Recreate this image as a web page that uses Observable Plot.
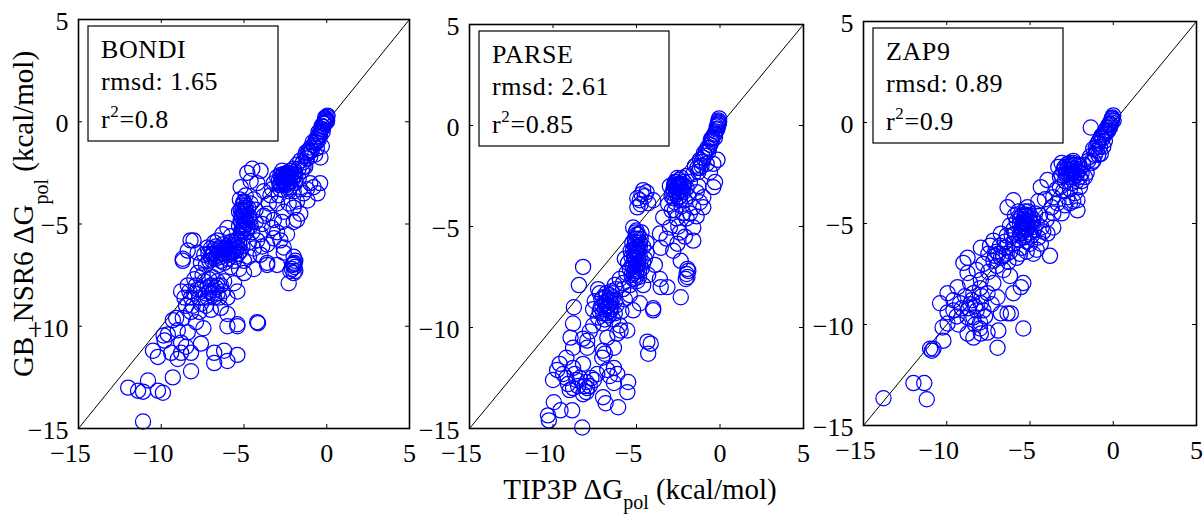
<!DOCTYPE html>
<html><head><meta charset="utf-8">
<script src="https://cdn.jsdelivr.net/npm/d3@7"></script>
<script src="https://cdn.jsdelivr.net/npm/@observablehq/plot@0.6"></script>
<style>
body{margin:0;background:#fff;}
#wrap{position:relative;width:1203px;height:516px;overflow:hidden;background:#fff;}
#wrap svg{position:absolute;top:0;}
</style></head><body><div id="wrap"></div>
<script>
// ---- data: [TIP3P ΔGpol, GB_NSR6 ΔGpol] in kcal/mol ----
const bondi = [
[0.05,0.3],[0.0,0.25],[-0.05,0.15],[0.02,0.05],[-0.1,0.0],[-0.15,-0.1],[-0.2,-0.25],[-0.3,-0.35],[-0.38,-0.45],[-0.45,-0.6],[-0.56,-0.77],[-0.5,-0.9],[-0.7,-1.0],[-0.8,-1.15],[-0.98,-1.26],[-1.1,-1.4],[-1.16,-1.55],[-1.3,-1.65],[-0.38,-1.75],[-1.6,-1.9],[-1.45,-2.0],[-0.6,-1.3],
[-0.1,0.2],[0.0,0.0],[-0.2,-0.1],[-0.25,-0.5],[-0.4,-0.7],[-0.6,-1.0],[-0.9,-1.4],[-1.2,-1.8],[-1.0,-1.7],[-0.7,-1.6],[-0.3,-1.2],[-1.4,-2.2],
[-0.05,0.1],[-0.15,-0.05],[-0.3,-0.2],[-0.5,-0.5],[-0.65,-0.85],[-0.85,-1.0],[-1.05,-1.5],[-1.25,-1.5],
[-1.8,-2.1],[-2.0,-2.3],[-2.2,-2.4],[-2.4,-2.5],[-2.6,-2.55],[-2.8,-2.6],[-2.5,-2.7],[-2.3,-2.8],[-2.7,-2.85],[-2.9,-2.9],[-2.4,-3.0],[-2.1,-2.9],[-2.6,-3.1],[-2.2,-3.2],[-1.9,-2.6],[-1.7,-2.8],[-2.0,-3.4],[-2.8,-3.3],[-3.0,-2.7],[-3.2,-3.0],[-1.5,-2.4],[-1.3,-2.2],[-0.4,-3.0],[-0.56,-3.5],[-0.8,-3.2],[-1.0,-3.0],[-1.16,-3.85],[-1.4,-3.5],[-2.0,-4.2],[-1.6,-4.5],[-2.0,-4.9],[-1.8,-4.8],[-2.4,-5.5],[-2.6,-6.15],[-3.6,-4.5],[-3.2,-4.8],[-3.0,-4.0],[-3.4,-3.6],[-2.6,-4.4],
[-2.45,-2.6],[-2.55,-2.75],[-2.35,-2.65],[-2.65,-2.65],[-2.5,-2.9],[-2.3,-2.5],[-2.7,-2.4],[-2.2,-2.7],[-2.4,-3.2],[-2.8,-3.0],[-2.0,-2.7],[-2.6,-2.95],[-1.9,-3.0],[-2.3,-3.4],[-2.9,-3.6],[-3.3,-3.3],[-1.6,-3.3],[-1.2,-3.3],[-1.8,-3.9],[-2.3,-4.0],[-2.7,-4.9],[-3.0,-5.4],[-2.8,-5.8],
[-2.5,-2.6],[-2.35,-2.75],[-2.6,-2.85],[-2.75,-2.7],[-2.15,-2.55],[-2.45,-3.1],[-2.85,-3.1],[-1.95,-2.45],[-2.25,-2.95],[-1.7,-2.3],
[-4.0,-2.4],[-4.8,-2.5],[-4.5,-2.3],[-4.6,-2.9],[-5.2,-3.2],[-4.2,-3.0],[-4.9,-3.6],[-3.8,-3.4],[-4.4,-3.8],
[-5.0,-3.9],[-5.1,-4.1],[-4.9,-4.3],[-5.05,-4.5],[-5.15,-4.6],[-4.95,-4.8],[-5.1,-5.0],[-5.0,-5.2],[-4.85,-5.4],[-5.2,-5.5],[-4.7,-4.6],[-5.3,-4.4],[-4.6,-5.1],[-4.3,-4.9],[-4.0,-5.5],[-3.6,-6.0],[-3.6,-6.9],[-4.4,-6.2],[-4.0,-6.5],
[-5.0,-4.0],[-4.95,-4.2],[-5.0,-4.4],[-5.1,-4.7],[-4.9,-4.9],[-5.0,-5.1],[-5.15,-5.3],[-4.8,-5.0],[-5.2,-4.3],[-4.75,-4.2],[-5.25,-3.8],[-4.6,-4.0],[-4.3,-4.3],[-4.5,-5.4],[-3.9,-5.0],[-4.2,-5.8],[-4.7,-5.9],
[-5.05,-3.95],[-4.9,-4.1],[-5.1,-4.35],[-4.85,-4.55],[-5.2,-4.85],[-4.95,-5.05],[-5.05,-5.35],[-4.8,-5.2],[-4.65,-4.8],[-5.3,-5.1],
[-3.3,-5.2],[-3.5,-4.0],[-3.8,-4.6],[-3.2,-5.7],[-3.9,-6.1],
[-6.0,-5.2],[-6.6,-5.8],[-5.4,-5.8],[-5.6,-6.0],[-5.4,-6.15],[-5.2,-6.3],[-5.8,-6.2],[-5.9,-6.5],[-5.5,-6.6],[-6.1,-6.3],[-6.3,-6.0],[-6.5,-6.4],[-6.84,-6.44],[-7.0,-6.2],[-7.2,-6.15],[-6.7,-6.7],[-7.1,-6.8],[-6.5,-7.0],[-7.4,-6.5],[-7.6,-6.9],[-6.2,-6.9],[-5.8,-7.1],[-5.0,-6.8],[-4.7,-6.6],[-5.3,-7.2],[-4.4,-7.2],[-5.0,-7.4],[-3.0,-7.0],[-3.6,-7.0],[-8.05,-5.8],[-8.23,-5.8],[-8.4,-6.3],[-8.7,-6.7],[-8.7,-6.8],
[-5.5,-6.3],[-5.7,-6.4],[-5.6,-6.1],[-5.9,-6.0],[-6.0,-6.4],[-6.2,-6.2],[-6.4,-6.6],[-6.6,-6.3],[-6.7,-6.1],[-6.9,-6.5],[-7.0,-6.6],[-5.3,-5.9],[-5.1,-6.1],[-6.8,-5.9],[-7.3,-7.0],[-6.0,-6.7],[-5.6,-6.8],[-7.8,-6.4],[-6.3,-5.5],[-5.8,-5.6],
[-5.45,-6.05],[-5.65,-6.25],[-5.85,-6.35],[-6.05,-6.1],[-6.25,-6.45],[-6.45,-6.2],[-6.65,-6.55],[-6.85,-6.3],[-6.95,-6.75],[-7.15,-6.45],[-5.35,-6.45],[-5.75,-5.85],[-6.4,-6.8],
[-2.0,-6.6],[-1.9,-6.8],[-2.0,-6.95],[-1.95,-7.1],[-2.1,-7.2],[-2.0,-7.4],[-2.2,-7.3],[-2.3,-7.9],[-2.6,-6.4],[-1.95,-6.9],[-2.05,-7.0],[-1.9,-7.3],
[-6.84,-8.25],[-7.0,-8.0],[-6.6,-8.4],[-7.2,-8.6],[-6.4,-8.0],[-6.9,-7.6],[-7.4,-7.8],[-7.8,-7.4],[-6.2,-7.8],[-6.0,-8.6],[-5.4,-8.3],[-5.6,-7.9],[-7.6,-8.9],[-7.0,-9.2],[-6.4,-9.1],[-6.0,-9.4],[-8.0,-7.7],[-8.4,-8.0],[-8.8,-8.3],[-8.2,-8.6],[-7.8,-8.2],[-8.5,-9.0],[-9.1,-9.6],[-8.7,-9.6],[-8.2,-9.3],[-7.9,-9.8],[-7.45,-10.1],[-8.4,-10.3],[-7.6,-10.85],[-6.0,-10.0],[-5.4,-10.0],[-5.4,-9.9],[-4.2,-9.8],[-4.15,-9.85],[-9.3,-9.7],[-9.6,-10.4],[-9.86,-10.45],[-9.8,-10.7],[-9.0,-10.2],[-8.8,-10.8],
[-6.7,-8.1],[-6.9,-8.4],[-7.1,-8.3],[-6.5,-8.6],[-7.3,-8.4],[-6.6,-7.8],[-7.1,-7.7],[-7.6,-8.2],[-8.0,-8.4],[-6.3,-8.3],[-7.7,-9.3],[-8.1,-9.0],[-7.3,-9.0],
[-7.5,-7.5],[-7.9,-8.0],[-8.3,-8.3],[-7.7,-8.6],[-8.6,-8.6],[-7.2,-8.1],[-6.6,-8.0],[-6.8,-8.6],
[-10.5,-11.2],[-10.2,-11.5],[-9.4,-11.3],[-8.8,-11.3],[-8.2,-11.3],[-8.5,-11.0],[-9.0,-11.6],[-6.8,-11.3],[-6.8,-11.8],[-6.2,-11.2],[-6.0,-11.7],[-5.4,-11.4],[-8.2,-12.2],[-9.3,-12.5],[-10.8,-12.65],[-12.0,-13.0],[-11.4,-13.15],[-11.1,-13.2],[-10.2,-13.15],[-9.9,-13.25],[-11.1,-14.66]
];
const parse = [
[-0.05,0.35],[-0.1,0.25],[-0.08,0.1],[-0.12,0.0],[-0.15,-0.15],[-0.25,-0.3],[-0.35,-0.45],[-0.45,-0.6],[-0.5,-0.8],[-0.6,-0.95],[-0.75,-1.1],[-0.85,-1.3],[-1.0,-1.6],[-0.4,-1.9],[-0.15,-1.7],[-1.2,-1.7],[-1.35,-2.1],[-1.6,-2.4],[-1.1,-2.0],[-0.3,-2.8],[-0.4,-3.05],
[-0.05,0.2],[-0.1,0.05],[-0.2,-0.2],[-0.3,-0.6],[-0.55,-0.7],[-0.7,-1.3],[-0.9,-1.5],[-1.1,-1.8],[-0.8,-1.9],[-1.3,-2.3],[-1.5,-2.0],[-0.6,-2.3],
[-0.1,0.15],[-0.2,-0.05],[-0.3,-0.4],[-0.5,-0.65],[-0.65,-1.1],[-0.95,-1.35],[-1.2,-2.1],
[-2.5,-2.9],[-2.4,-2.9],[-2.7,-2.8],[-2.3,-2.6],[-2.6,-3.1],[-2.8,-3.2],[-2.2,-3.3],[-3.0,-3.0],[-2.9,-3.5],[-2.5,-3.6],[-3.1,-3.9],[-2.7,-3.8],[-2.0,-2.5],[-1.8,-2.8],[-2.1,-3.7],[-1.0,-3.55],[-1.0,-4.05],[-1.6,-4.05],[-1.4,-3.3],[-1.8,-4.35],[-1.6,-5.05],[-2.2,-4.35],[-2.4,-5.3],[-1.6,-5.7],[-2.6,-4.6],[-2.9,-4.2],[-3.4,-4.55],[-3.0,-5.05],[-3.6,-5.35],[-3.55,-6.05],[-2.55,-5.85],[-2.8,-6.2],[-2.35,-6.7],
[-2.5,-3.0],[-2.6,-2.8],[-2.4,-3.2],[-2.7,-3.0],[-2.3,-2.9],[-2.45,-2.7],[-2.6,-3.4],[-2.2,-3.0],[-2.8,-3.6],[-2.4,-3.5],[-2.0,-3.1],[-1.9,-3.5],[-2.3,-4.0],[-2.7,-4.2],[-2.0,-4.6],[-1.3,-3.0],[-1.2,-3.8],[-1.4,-4.5],[-2.5,-5.0],[-3.2,-5.6],[-2.1,-5.5],
[-2.55,-2.95],[-2.35,-3.05],[-2.65,-3.25],[-2.5,-3.3],[-2.75,-2.95],[-2.3,-3.2],[-2.55,-2.6],[-2.85,-3.35],[-2.15,-2.8],[-2.4,-3.7],
[-4.6,-3.2],[-4.8,-3.7],[-4.95,-4.05],[-4.0,-3.7],[-4.3,-3.85],[-4.5,-3.5],[-4.95,-3.6],[-4.7,-3.4],[-4.4,-3.3],[-4.75,-3.9],
[-5.2,-5.05],[-5.0,-5.2],[-4.9,-5.4],[-5.1,-5.6],[-4.8,-5.8],[-5.0,-6.0],[-5.2,-6.15],[-5.35,-6.2],[-4.95,-6.35],[-5.1,-6.6],[-4.9,-6.8],[-5.2,-7.0],[-5.0,-7.2],[-5.3,-7.4],[-4.95,-7.7],[-4.7,-5.3],[-4.6,-6.0],[-4.5,-6.6],[-4.7,-7.1],[-5.5,-6.8],[-5.6,-7.3],[-4.4,-5.8],[-4.3,-7.4],[-4.6,-7.9],[-5.4,-7.9],[-3.9,-6.9],[-3.6,-7.6],
[-5.05,-5.3],[-4.95,-5.6],[-5.1,-5.9],[-5.0,-6.1],[-4.9,-6.2],[-5.15,-6.4],[-5.05,-6.7],[-4.95,-6.9],[-5.1,-7.1],[-5.0,-7.4],[-5.2,-7.6],[-4.85,-7.5],[-5.3,-6.5],[-4.8,-6.5],[-5.25,-5.8],[-4.75,-5.6],[-5.4,-7.1],[-4.6,-6.8],[-4.4,-6.3],[-5.7,-6.6],[-5.8,-7.8],
[-5.0,-5.4],[-5.1,-5.75],[-4.9,-6.0],[-5.05,-6.25],[-5.15,-6.55],[-4.9,-6.6],[-5.0,-6.95],[-5.15,-7.3],[-4.85,-7.2],[-5.05,-7.55],[-4.8,-6.0],[-5.25,-6.9],
[-1.95,-7.1],[-1.9,-7.2],[-2.0,-7.35],[-1.95,-7.5],[-2.05,-7.6],[-2.35,-8.5],[-3.55,-8.0],[-3.15,-8.0],
[-6.0,-7.6],[-6.3,-7.9],[-5.8,-8.1],[-6.5,-8.2],[-6.8,-8.3],[-7.0,-8.5],[-6.6,-8.6],[-6.9,-8.8],[-7.15,-9.0],[-6.5,-9.1],[-6.7,-9.4],[-6.4,-9.6],[-7.0,-9.8],[-6.2,-8.9],[-5.9,-9.2],[-5.7,-8.6],[-7.3,-8.1],[-7.5,-8.7],[-7.3,-9.5],[-6.0,-9.9],[-5.2,-9.15],[-4.8,-8.8],[-5.4,-8.4],[-4.0,-9.15],[-4.0,-9.05],[-4.35,-10.7],[-4.3,-11.3],[-4.15,-10.8],
[-6.6,-8.4],[-6.8,-8.7],[-6.9,-9.1],[-6.7,-8.9],[-7.0,-9.3],[-6.5,-8.8],[-7.1,-8.6],[-6.4,-8.5],[-6.6,-9.2],[-6.9,-9.6],[-6.3,-9.3],[-7.2,-8.3],[-6.2,-8.1],[-7.6,-9.1],
[-6.6,-8.7],[-6.75,-9.0],[-6.55,-9.0],[-6.85,-8.5],[-6.45,-8.3],[-7.05,-8.9],[-6.3,-8.7],[-6.8,-9.3],[-7.2,-9.2],
[-8.2,-7.0],[-8.45,-7.9],[-8.75,-9.0],[-8.8,-9.8],[-8.95,-10.5],[-8.8,-11.0],[-8.2,-10.55],[-7.95,-11.0],[-7.95,-10.65],[-7.6,-9.9],[-7.8,-10.2],[-6.75,-10.5],[-5.95,-10.15],[-5.55,-10.15],[-6.15,-10.3],[-6.35,-11.0],[-7.0,-11.15],[-7.05,-11.5],[-6.9,-11.3],
[-9.75,-12.1],[-10.0,-12.6],[-9.4,-12.3],[-9.1,-12.8],[-8.8,-13.0],[-8.5,-12.9],[-8.2,-13.3],[-7.95,-13.0],[-8.8,-12.0],[-8.2,-11.8],[-7.55,-12.6],[-7.35,-12.3],[-8.0,-12.7],[-6.75,-12.1],[-6.35,-12.0],[-6.15,-12.3],[-6.35,-12.75],[-7.0,-13.45],[-6.85,-13.75],[-6.1,-13.95],[-5.5,-12.7],[-5.55,-13.2],[-9.95,-13.7],[-9.55,-14.1],[-8.85,-14.1],[-10.3,-14.35],[-10.25,-14.6],[-8.25,-14.95],[-9.2,-11.5],[-9.6,-11.8],
[-8.1,-12.9],[-8.0,-13.2],[-7.8,-12.9],[-9.2,-12.5],[-8.6,-12.6],[-6.6,-12.4],[-8.4,-12.5],[-8.7,-12.3],[-9.0,-13.1],[-7.7,-12.5]
];
const zap9 = [
[0.0,0.35],[-0.05,0.25],[0.02,0.1],[-0.1,0.0],[-0.15,-0.1],[-0.2,-0.25],[-0.35,-0.25],[-0.4,-0.45],[-0.55,-0.6],[-0.75,-0.75],[-0.85,-0.9],[-0.95,-1.05],[-1.35,-0.25],[-0.75,-1.55],[-1.0,-1.4],[-1.2,-1.9],[-1.4,-1.7],[-0.6,-1.2],
[-0.05,0.2],[-0.12,0.1],[-0.25,-0.1],[-0.3,-0.4],[-0.45,-0.55],[-0.65,-0.8],[-0.8,-1.2],[-0.9,-1.6],[-1.1,-1.6],[-1.3,-2.0],[-0.5,-0.9],[-1.5,-1.9],[-1.2,-1.3],
[-0.1,0.2],[-0.2,-0.05],[-0.3,-0.15],[-0.5,-0.4],[-0.7,-0.65],[-0.9,-1.0],[-1.05,-1.25],
[-2.75,-2.05],[-2.6,-2.0],[-2.9,-2.2],[-2.5,-2.3],[-3.0,-2.4],[-2.3,-2.1],[-2.8,-2.5],[-2.2,-2.6],[-2.0,-2.3],[-1.8,-2.1],[-1.6,-2.5],[-1.7,-2.7],[-3.2,-2.7],[-3.2,-3.2],[-2.75,-3.7],[-2.15,-3.85],[-2.15,-4.35],[-2.5,-3.0],[-2.0,-3.2],[-3.6,-3.7],[-3.35,-4.0],[-3.0,-3.4],[-2.6,-4.0],[-4.35,-3.2],[-3.95,-2.85],[-3.6,-4.5],[-3.6,-5.2],[-3.95,-5.5],[-4.35,-6.0],[-3.8,-6.6],[-4.0,-4.8],[-3.3,-2.2],
[-2.7,-2.2],[-2.5,-2.1],[-2.65,-2.4],[-2.4,-2.5],[-2.85,-2.6],[-2.3,-2.4],[-2.55,-2.7],[-2.2,-2.9],[-2.9,-2.9],[-2.0,-2.7],[-2.6,-3.3],[-2.3,-3.5],[-3.1,-2.0],[-2.4,-1.9],[-1.9,-2.9],[-2.4,-3.9],[-2.9,-4.1],[-3.1,-4.5],
[-2.6,-2.15],[-2.45,-2.3],[-2.8,-2.35],[-2.7,-2.55],[-2.35,-2.7],[-2.5,-2.5],[-2.95,-2.25],[-2.15,-2.45],[-2.4,-2.0],[-3.1,-2.6],[-2.05,-2.1],[-1.9,-2.5],
[-3.4,-3.3],[-3.7,-4.2],[-4.1,-3.8],[-4.2,-5.4],[-4.6,-6.3],
[-5.15,-4.2],[-5.3,-4.4],[-5.0,-4.6],[-5.4,-4.8],[-5.2,-5.0],[-5.5,-5.2],[-5.6,-5.5],[-5.3,-5.6],[-4.9,-5.2],[-4.7,-4.5],[-4.6,-5.0],[-5.8,-4.9],[-6.0,-5.3],[-6.35,-4.2],[-6.0,-3.85],[-5.7,-4.4],[-4.5,-3.9],[-4.8,-6.5],[-5.0,-6.0],[-5.5,-6.2],[-6.0,-6.0],[-6.75,-5.5],[-7.2,-5.85],[-6.5,-5.9],[-6.2,-6.4],[-5.8,-6.7],[-4.5,-5.7],
[-5.2,-4.6],[-5.3,-4.9],[-5.1,-5.1],[-5.4,-5.0],[-5.25,-5.3],[-5.5,-4.6],[-5.0,-4.9],[-5.6,-5.0],[-5.4,-5.4],[-5.1,-4.4],[-4.8,-4.8],[-5.7,-5.8],[-5.9,-5.5],[-4.9,-5.6],[-5.2,-5.9],[-4.4,-4.6],[-4.3,-5.2],[-5.9,-4.6],[-6.2,-5.1],[-6.4,-5.6],[-6.8,-6.1],[-6.6,-6.6],[-7.0,-7.1],[-7.4,-6.1],[-6.3,-6.9],[-5.6,-6.5],[-5.2,-6.4],
[-5.25,-4.65],[-5.35,-5.15],[-5.05,-4.75],[-5.45,-4.95],[-5.15,-5.25],[-5.5,-5.35],[-5.0,-5.45],[-4.9,-5.0],[-5.6,-4.75],[-5.3,-4.55],[-5.4,-5.7],[-4.75,-5.3],[-6.1,-5.6],[-6.5,-6.2],[-6.9,-6.5],[-6.4,-6.5],[-7.1,-6.6],
[-7.2,-6.85],[-6.75,-6.7],[-7.0,-6.4],[-7.5,-6.5],[-7.95,-6.2],[-8.75,-6.7],[-7.8,-7.0],[-8.2,-7.3],[-9.0,-6.95],[-8.75,-7.45],[-8.6,-7.95],[-7.95,-7.8],[-9.35,-8.15],[-7.55,-8.45],[-7.2,-7.95],[-6.95,-8.65],[-7.5,-7.4],[-6.6,-7.3],[-6.2,-7.6],[-6.75,-9.45],[-6.35,-9.45],[-6.15,-9.45],[-6.9,-10.3],[-6.95,-11.15],[-5.4,-10.2],[-6.0,-8.45],[-5.55,-8.15],[-5.4,-7.95],[-8.4,-8.45],[-8.4,-9.65],[-8.2,-9.3],[-7.95,-8.95],[-8.6,-9.0],[-8.0,-9.9],[-7.7,-9.6],[-8.3,-10.0],[-8.0,-10.2],
[-8.0,-8.2],[-8.5,-8.8],[-7.8,-9.3],[-8.3,-9.1],[-7.9,-8.6],[-7.3,-9.0],[-8.9,-8.6],
[-8.7,-9.2],[-9.6,-9.3],[-9.4,-9.6],
[-10.4,-8.95],[-9.95,-8.45],[-9.6,-8.8],[-9.95,-9.4],[-9.2,-8.95],[-8.75,-9.65],[-9.1,-9.2],[-8.75,-10.45],[-8.4,-10.65],[-7.95,-10.45],[-7.55,-10.4],[-9.3,-10.0],[-10.25,-10.15],[-9.95,-9.95],[-10.2,-10.8],[-11.0,-11.2],[-10.8,-11.2],[-10.9,-11.3],[-12.0,-12.9],[-11.35,-12.9],[-11.2,-13.7],[-13.8,-13.65]
];
const panelNames = ["BONDI", "PARSE", "ZAP9"];
const rmsdValues = ["1.65", "2.61", "0.89"];
const r2Values = ["0.8", "0.85", "0.9"];
const axisDomain = [-15, 5];
const tickValues = [-15, -10, -5, 0, 5];

// ---- layout ----
const FONT = '"Liberation Serif","Times New Roman",Times,serif';
const PAGE_H = 516;
const ML = 64, MR = 10;
const frames = [
  {left: 78, top: 19, w: 331, h: 409},
  {left: 469, top: 24, w: 334, h: 404},
  {left: 863, top: 21, w: 333, h: 404}
];
const series = [bondi, parse, zap9];
const wrap = document.getElementById("wrap");

series.forEach((pts, i) => {
  const f = frames[i];
  const MB = PAGE_H - f.top - f.h;
  const plot = Plot.plot({
    width: ML + f.w + MR,
    height: PAGE_H,
    marginLeft: ML, marginRight: MR, marginTop: f.top, marginBottom: MB,
    x: {domain: axisDomain, label: null},
    y: {domain: axisDomain, label: null},
    style: {background: "none", fontFamily: FONT, fontSize: "26px", color: "black", overflow: "visible"},
    marks: [
      Plot.line(axisDomain.map(v => [v, v]), {x: d => d[0], y: d => d[1], stroke: "black", strokeWidth: 1}),
      Plot.dot(pts, {x: d => d[0], y: d => d[1], r: 7.6, stroke: "#0000ff", strokeWidth: 1.25, fill: "none"}),
      Plot.frame({stroke: "black", strokeWidth: 1.6}),
      Plot.tickX(tickValues, {x: d => d, insetTop: f.h - 4, stroke: "black"}),
      Plot.tickX(tickValues, {x: d => d, insetBottom: f.h - 4, stroke: "black"}),
      Plot.tickY(tickValues, {y: d => d, insetRight: f.w - 4, stroke: "black"}),
      Plot.tickY(tickValues, {y: d => d, insetLeft: f.w - 4, stroke: "black"}),
      Plot.axisX(tickValues.filter(v => v < 0), {tickSize: 0, tickPadding: 15, dx: -8, label: null}),
      Plot.axisX(tickValues.filter(v => v >= 0), {tickSize: 0, tickPadding: 15, label: null}),
      Plot.axisY(tickValues, {tickSize: 0, tickPadding: 10, dy: 2, label: null})
    ]
  });
  plot.style.left = (f.left - ML) + "px";
  wrap.appendChild(plot);

  // annotation box
  const svg = d3.select(plot);
  const g = svg.append("g").attr("transform", `translate(${ML + 10},${f.top + 7})`)
    .attr("font-family", FONT).attr("font-size", 26).attr("fill", "black")
    .attr("text-anchor", "start").style("letter-spacing", "0.6px");
  g.append("rect").attr("width", 190).attr("height", 115)
    .attr("fill", "white").attr("stroke", "black").attr("stroke-width", 1.2);
  g.append("text").attr("x", 13).attr("y", 32).text(panelNames[i]);
  g.append("text").attr("x", 13).attr("y", 64).text("rmsd: " + rmsdValues[i]);
  const t = g.append("text").attr("x", 13).attr("y", 102);
  t.append("tspan").text("r");
  t.append("tspan").attr("dy", -11).attr("font-size", 17).text("2");
  t.append("tspan").attr("dy", 11).text("=" + r2Values[i]);
});

// axis titles
const ov = d3.select(wrap).append("svg")
  .attr("width", 1203).attr("height", PAGE_H)
  .style("left", "0px").style("pointer-events", "none")
  .attr("font-family", FONT).attr("fill", "black");
const xt = ov.append("text").attr("x", 640).attr("y", 499).attr("text-anchor", "middle").attr("font-size", 29);
xt.append("tspan").text("TIP3P ΔG");
xt.append("tspan").attr("dy", 10).attr("font-size", 20).text("pol");
xt.append("tspan").attr("dy", -10).text(" (kcal/mol)");
const yt = ov.append("text").attr("transform", "translate(33,214) rotate(-90)")
  .attr("text-anchor", "middle").attr("font-size", 29);
yt.append("tspan").text("GB_NSR6 ΔG");
yt.append("tspan").attr("dy", 15).attr("font-size", 20).text("pol");
yt.append("tspan").attr("dy", -15).text(" (kcal/mol)");
</script>
</body></html>
